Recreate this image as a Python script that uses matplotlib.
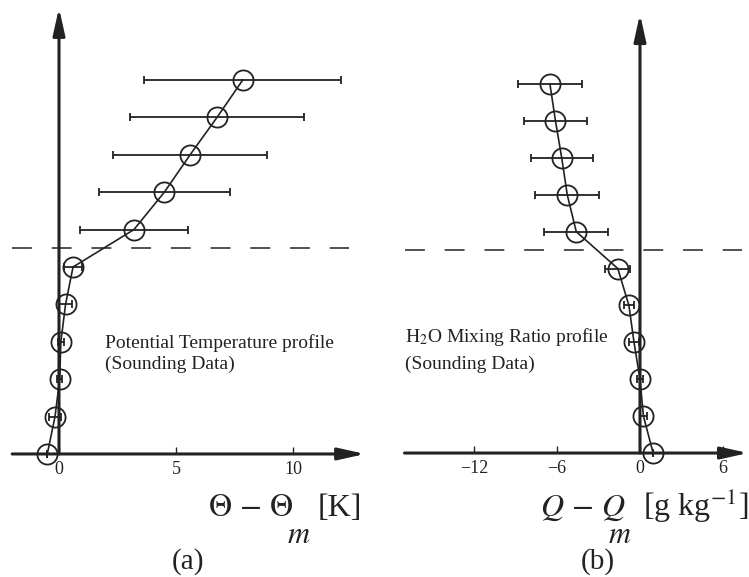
import matplotlib
matplotlib.use("Agg")
import matplotlib.pyplot as plt

plt.rcParams['font.family'] = ['Liberation Serif', 'DejaVu Serif']
plt.rcParams['mathtext.fontset'] = 'stix'

# profile levels (index above ground) and the two sounding profiles
levels = [0, 1, 2, 3, 4, 5, 6, 7, 8, 9, 10]
theta = [-0.5, -0.17, 0.03, 0.08, 0.28, 0.6, 3.2, 4.5, 5.6, 6.75, 7.85]
theta_err = [0.0, 0.25, 0.1, 0.12, 0.28, 0.4, 2.3, 2.8, 3.3, 3.7, 4.2]
q = [0.95, 0.25, 0.0, -0.43, -0.8, -1.6, -4.6, -5.25, -5.65, -6.1, -6.5]
q_err = [0.0, 0.25, 0.2, 0.35, 0.35, 0.9, 2.3, 2.3, 2.25, 2.3, 2.3]
bl_top = 5.5

theta_ticks = [0, 5, 10]
q_ticks = [-12, -6, 0, 6]

ink = '#222222'

fig = plt.figure(figsize=(7.49, 5.77), dpi=100)
axL = fig.add_axes([0, 0, 375 / 749, 1])
axR = fig.add_axes([375 / 749, 0, 374 / 749, 1])

axL.set_xlim(-2.52, 13.5)
axL.set_ylim(-3.29, 12.14)
axR.set_xlim(-19.13, 7.87)
axR.set_ylim(-3.36, 12.28)


def draw_panel(ax, x, xerr, ticks, xstart, xend, dash_from, dash_to, ytop):
    for s in ax.spines.values():
        s.set_visible(False)
    ax.spines['bottom'].set_position(('data', 0))
    ax.patch.set_alpha(0)
    ax.set_yticks([])
    ax.set_xticks(ticks)
    ax.tick_params(axis='x', direction='in', length=5, width=1, pad=5,
                   labelsize=13, colors=ink)

    arrow = dict(arrowstyle='-|>,head_length=0.9,head_width=0.2', lw=2.2,
                 color=ink, mutation_scale=18, shrinkA=0, shrinkB=0)
    ax.annotate('', xy=(xend, 0), xytext=(xstart, 0), arrowprops=arrow)
    ax.annotate('', xy=(0, ytop), xytext=(0, 0), arrowprops=arrow)

    ax.plot([dash_from, dash_to], [bl_top, bl_top], color=ink, lw=1.1,
            linestyle=(0, (13, 13)))

    ax.errorbar(x, levels, xerr=xerr, fmt='-o', color=ink, lw=1.2,
                elinewidth=1.3, capsize=3, capthick=1.3,
                markersize=14.5, markerfacecolor='none',
                markeredgewidth=1.3, markeredgecolor=ink, zorder=3)


draw_panel(axL, theta, theta_err, theta_ticks, -2.0, 13.08, -2.0, 12.4, 11.93)
draw_panel(axR, q, q_err, q_ticks, -17.0, 7.8, -17.0, 7.4, 11.9)


def px(x, y):
    return x / 749, 1 - y / 577


# panel annotations
fig.text(*px(105, 343), 'Potential Temperature profile',
         fontsize=14, color=ink, va='center', ha='left')
fig.text(*px(105, 364), '(Sounding Data)',
         fontsize=14, color=ink, va='center', ha='left')
fig.text(*px(405, 337), r'H$_2$O Mixing Ratio profile',
         fontsize=14, color=ink, va='center', ha='left')
fig.text(*px(405, 364), '(Sounding Data)',
         fontsize=14, color=ink, va='center', ha='left')

# axis labels, with the deep-set subscript m placed on its own
fig.text(*px(208, 516), r'$\Theta\,-\,\Theta$', fontsize=23, color=ink,
         va='baseline', ha='left')
fig.text(*px(299, 543), r'$m$', fontsize=22, color=ink,
         va='baseline', ha='center')
fig.text(*px(362, 516), '[K]', fontsize=23, color=ink,
         va='baseline', ha='right')

fig.text(*px(540, 516), r'$Q\,-\,Q$', fontsize=23, color=ink,
         va='baseline', ha='left')
fig.text(*px(620, 543), r'$m$', fontsize=22, color=ink,
         va='baseline', ha='center')
fig.text(*px(748, 516), r'[g kg$^{-1}$]', fontsize=23, color=ink,
         va='baseline', ha='right')

fig.text(*px(188, 562), '(a)', fontsize=21, color=ink,
         ha='center', va='center')
fig.text(*px(598, 562), '(b)', fontsize=21, color=ink,
         ha='center', va='center')

fig.savefig('out.png', dpi=100)
